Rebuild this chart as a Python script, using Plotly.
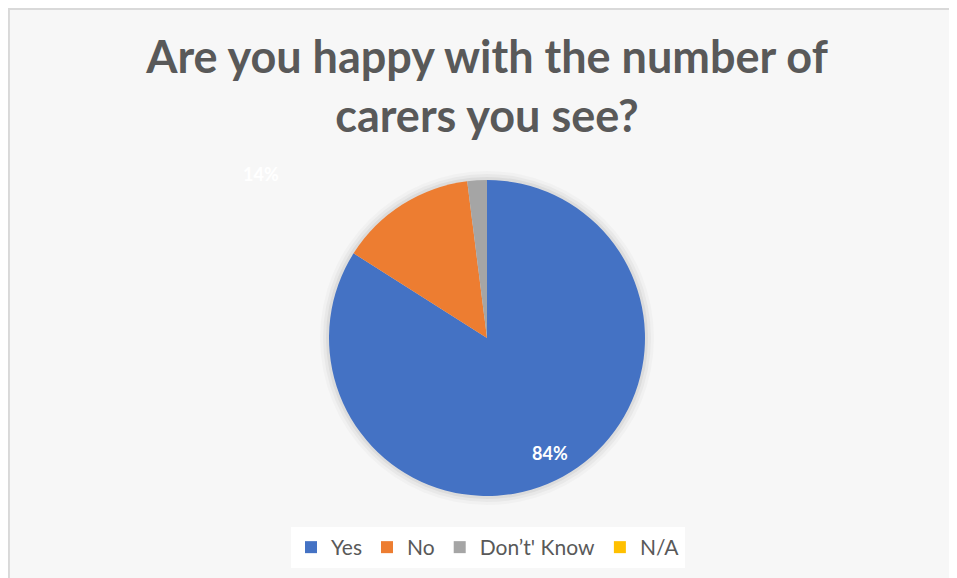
import math
import plotly.graph_objects as go

categories = ["Yes", "No", "Don’t' Know", "N/A"]
values = [84, 14, 2, 0]
colors = ["#4472C4", "#ED7D31", "#A5A5A5", "#FFC000"]
title_text = "Are you happy with the number of<br>carers you see?"

# The page body adds an 8px offset; the figure fills the rest of the window.
OFF = 8
W, H = 957 - OFF, 578 - OFF


def px_x(x):
    return (x - OFF) / W


def px_y(y):
    return 1 - (y - OFF) / H


PIE_L, PIE_R, PIE_T, PIE_B = 329, 645, 180, 496
dom_x = [px_x(PIE_L), px_x(PIE_R)]
dom_y = [px_y(PIE_B), px_y(PIE_T)]

fig = go.Figure()

# soft outer shadow of the pie
for grow, alpha in [(9, 0.025), (6, 0.035), (3, 0.05)]:
    fig.add_trace(go.Pie(
        labels=["shadow"], values=[1],
        marker=dict(colors=[f"rgba(0,0,0,{alpha})"], line=dict(width=0)),
        textinfo="none", hoverinfo="skip", showlegend=False, sort=False,
        domain=dict(x=[px_x(PIE_L - grow), px_x(PIE_R + grow)],
                    y=[px_y(PIE_B + grow), px_y(PIE_T - grow)]),
    ))

fig.add_trace(go.Pie(
    labels=categories,
    values=values,
    marker=dict(colors=colors, line=dict(width=0)),
    sort=False,
    direction="clockwise",
    rotation=0,
    textinfo="none",
    domain=dict(x=dom_x, y=dom_y),
    hoverinfo="label+percent",
    showlegend=True,
))

# data labels placed from the slice angles
total = sum(values)
cx = (dom_x[0] + dom_x[1]) / 2
cy = (dom_y[0] + dom_y[1]) / 2
r_px = (dom_x[1] - dom_x[0]) * W / 2


def polar(frac, rf):
    ang = 2 * math.pi * frac
    return (cx + math.sin(ang) * r_px * rf / W,
            cy + math.cos(ang) * r_px * rf / H)


label_font = dict(family="Lato", size=18, color="white", weight="bold")
x84, y84 = polar((values[0] / 2) / total, 0.83)          # mid of "Yes"
x14, y14 = polar((values[0] + 1) / total, 1.77)          # moved-out "No" label

annotations = [
    dict(x=x84, y=y84, xref="paper", yref="paper",
         xanchor="center", yanchor="middle", showarrow=False,
         text=f"{round(100 * values[0] / total)}%", font=label_font),
    dict(x=x14, y=y14, xref="paper", yref="paper",
         xanchor="center", yanchor="middle", showarrow=False,
         text=f"{round(100 * values[1] / total)}%", font=label_font),
]

fig.update_layout(
    width=W, height=H,
    margin=dict(l=0, r=0, t=0, b=0),
    paper_bgcolor="white",
    title=dict(
        text=title_text,
        x=px_x(487), xanchor="center",
        y=px_y(73), yanchor="top",
        font=dict(family="Lato", size=45, color="#595959", weight="bold"),
    ),
    legend=dict(
        orientation="h",
        x=px_x(488), xanchor="center",
        y=px_y(527), yanchor="top",
        bgcolor="white",
        font=dict(family="Lato", size=21, color="#595959"),
        traceorder="normal",
    ),
    annotations=annotations,
    shapes=[
        dict(type="rect", xref="paper", yref="paper",
             x0=0, x1=1, y0=0, y1=px_y(9),
             fillcolor="#f7f7f7", line=dict(width=0), layer="below"),
        dict(type="line", xref="paper", yref="paper",
             x0=0.001, x1=0.001, y0=0, y1=px_y(9),
             line=dict(color="#d9d9d9", width=2), layer="below"),
        dict(type="line", xref="paper", yref="paper",
             x0=0, x1=1, y0=px_y(9), y1=px_y(9),
             line=dict(color="#d9d9d9", width=2), layer="below"),
    ],
)

fig.write_html("out.html")
